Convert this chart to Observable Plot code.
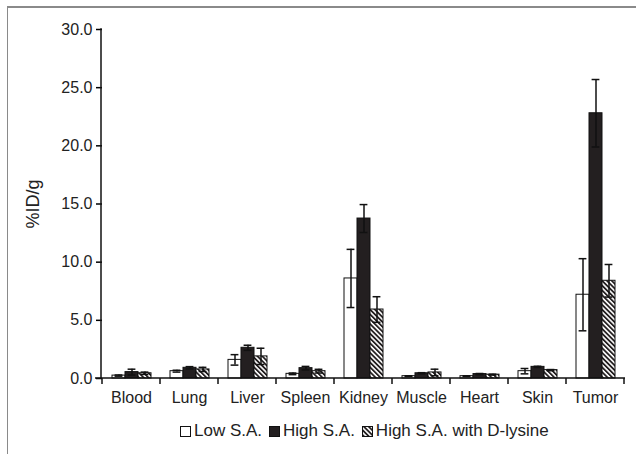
<!DOCTYPE html>
<html><head><meta charset="utf-8">
<script src="https://cdn.jsdelivr.net/npm/d3@7"></script>
<script src="https://cdn.jsdelivr.net/npm/@observablehq/plot@0.6"></script>
<style>
body{margin:0;background:#fff;font-family:"Liberation Sans",Arial,sans-serif;}
#wrap{position:relative;width:636px;height:454px;overflow:hidden;background:#fff;}
#frame{position:absolute;left:7px;top:6px;width:640px;height:460px;border-top:2px solid #8a8a8a;border-left:1.5px solid #8a8a8a;}
#chart{position:absolute;left:0;top:0;}
#ylabel{position:absolute;left:33px;top:204px;transform:translate(-50%,-50%) rotate(-90deg);font-size:18px;color:#222;white-space:nowrap;}
#legend{position:absolute;left:180px;top:421px;font-size:17px;color:#222;display:flex;align-items:center;white-space:nowrap;}
#legend .sw{margin-right:3px;}
#legend .item{display:flex;align-items:center;margin-right:7px;}
</style>
</head><body>
<svg width="0" height="0" style="position:absolute">
  <defs>
    <pattern id="hatch" patternUnits="userSpaceOnUse" width="3.4" height="3.4" patternTransform="rotate(-45)">
      <rect width="3.4" height="3.4" fill="#fff"/>
      <rect width="1.8" height="3.4" fill="#231f20"/>
    </pattern>
  </defs>
</svg>
<div id="wrap">
  <div id="frame"></div>
  <div id="chart"></div>
  <div id="ylabel">%ID/g</div>
  <div id="legend"></div>
</div>
<script>
const organs = ["Blood", "Lung", "Liver", "Spleen", "Kidney", "Muscle", "Heart", "Skin", "Tumor"];
const series = ["Low S.A.", "High S.A.", "High S.A. with D-lysine"];
const lowSA      = [0.25, 0.63, 1.60, 0.40, 8.60, 0.20, 0.20, 0.63, 7.20];
const lowSAErr   = [0.05, 0.08, 0.45, 0.07, 2.50, 0.03, 0.03, 0.23, 3.10];
const highSA     = [0.55, 0.92, 2.64, 0.89, 13.75, 0.45, 0.38, 1.00, 22.80];
const highSAErr  = [0.25, 0.10, 0.22, 0.15, 1.20, 0.05, 0.05, 0.05, 2.90];
const dLysine    = [0.45, 0.78, 1.90, 0.63, 5.93, 0.52, 0.33, 0.72, 8.40];
const dLysineErr = [0.10, 0.18, 0.70, 0.16, 1.10, 0.28, 0.04, 0.05, 1.40];
const yTicks = [0, 5, 10, 15, 20, 25, 30];
const fills = ["#ffffff", "#231f20", "url(#hatch)"];

const vals = [lowSA, highSA, dLysine];
const errs = [lowSAErr, highSAErr, dLysineErr];
const data = organs.flatMap((o, i) => series.map((s, j) => ({organ: o, series: s, value: vals[j][i], err: errs[j][i]})));

const W = 636, H = 415, mL = 101, mR = 11, mT = 29, mB = 37;
const font = '"Liberation Sans", Arial, sans-serif';
const padIn = 0.31, padOut = 0.155;
// offset of the first facet from the plot frame, derived from the fx band parameters
const step = (W - mL - mR) / (organs.length - padIn + 2 * padOut);
const outer = padOut * step;

const chart = Plot.plot({
  width: W, height: H,
  marginLeft: mL, marginRight: mR, marginTop: mT, marginBottom: mB,
  style: {fontFamily: font, fontSize: "16px", color: "#222", background: "transparent", overflow: "visible"},
  fx: {domain: organs, paddingInner: padIn, paddingOuter: padOut, label: null},
  x: {domain: series, padding: 0, axis: null},
  y: {domain: [0, 30], label: null},
  color: {domain: series, range: fills},
  marks: [
    Plot.axisY({ticks: yTicks, tickFormat: d3.format(".1f"), tickSize: 6, tickPadding: 4, label: null, stroke: "#000", strokeWidth: 1.5, fill: "#222", dx: -outer}),
    Plot.axisFx({anchor: "bottom", tickSize: 0, tickPadding: 13, label: null, fill: "#222"}),
    Plot.barY(data, {fx: "organ", x: "series", y: "value", fill: "series", stroke: "#111", strokeWidth: 1}),
    Plot.ruleX(data, {fx: "organ", x: "series", y1: d => d.value - d.err, y2: d => d.value + d.err, stroke: "#111", strokeWidth: 1.5}),
    Plot.tickY(data, {fx: "organ", x: "series", y: d => d.value + d.err, insetLeft: 2.6, insetRight: 2.6, stroke: "#111", strokeWidth: 1.5}),
    Plot.tickY(data, {fx: "organ", x: "series", y: d => d.value - d.err, insetLeft: 2.6, insetRight: 2.6, stroke: "#111", strokeWidth: 1.5})
  ]
});
document.getElementById("chart").appendChild(chart);

// axis lines and category boundary ticks, positioned through Plot's scales
const ys = chart.scale("y"), fxs = chart.scale("fx");
const g = d3.select(chart).append("g").attr("stroke", "#111").attr("stroke-width", 1.5);
const y0 = ys.apply(0), yTop = ys.apply(30);
g.append("line").attr("x1", mL).attr("x2", mL).attr("y1", yTop - 0.75).attr("y2", y0 + 0.75);
g.append("line").attr("x1", mL - 6).attr("x2", W - mR).attr("y1", y0).attr("y2", y0);
const half = (fxs.step - fxs.bandwidth) / 2;
const bounds = organs.map(o => fxs.apply(o) - half);
bounds.push(fxs.apply(organs[organs.length - 1]) + fxs.bandwidth + half);
bounds.forEach(x => g.append("line").attr("x1", x).attr("x2", x).attr("y1", y0).attr("y2", y0 + 6));

// legend
const leg = d3.select("#legend");
series.forEach((s, j) => {
  const it = leg.append("div").attr("class", "item");
  const sv = it.append("svg").attr("class", "sw").attr("width", 11).attr("height", 11);
  sv.append("rect").attr("x", 0.5).attr("y", 0.5).attr("width", 10).attr("height", 10).attr("fill", fills[j]).attr("stroke", "#111").attr("stroke-width", 1);
  it.append("span").text(s);
});
</script>
</body></html>
